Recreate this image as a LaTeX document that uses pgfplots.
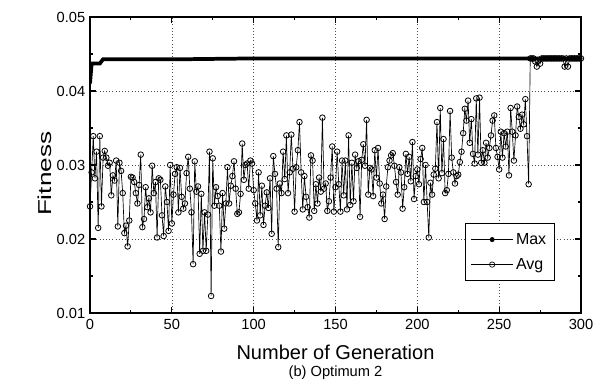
\documentclass[border=0pt]{standalone}
\usepackage{pgfplots}
\pgfplotsset{compat=1.18}
\usepackage{pgfplotstable}
\usepackage{fontspec}
\setmainfont{Liberation Sans}
\usepackage{graphicx}

\pgfplotstableread[row sep=\\]{
avg\\
0.0244\\0.0290\\0.0339\\0.0282\\0.0318\\0.0215\\0.0339\\0.0244\\0.0310\\0.0319\\
0.0310\\0.0299\\0.0303\\0.0259\\0.0286\\0.0279\\0.0306\\0.0217\\0.0303\\0.0292\\
0.0262\\0.0208\\0.0218\\0.0190\\0.0225\\0.0284\\0.0283\\0.0277\\0.0262\\0.0248\\
0.0273\\0.0314\\0.0216\\0.0227\\0.0270\\0.0243\\0.0255\\0.0236\\0.0299\\0.0262\\
0.0277\\0.0202\\0.0282\\0.0280\\0.0232\\0.0204\\0.0271\\0.0250\\0.0211\\0.0300\\
0.0221\\0.0260\\0.0288\\0.0297\\0.0236\\0.0296\\0.0257\\0.0241\\0.0248\\0.0289\\
0.0311\\0.0268\\0.0236\\0.0166\\0.0305\\0.0264\\0.0271\\0.0180\\0.0261\\0.0184\\
0.0236\\0.0184\\0.0233\\0.0318\\0.0123\\0.0309\\0.0245\\0.0270\\0.0258\\0.0245\\
0.0183\\0.0262\\0.0214\\0.0248\\0.0297\\0.0248\\0.0272\\0.0285\\0.0305\\0.0268\\
0.0234\\0.0236\\0.0261\\0.0329\\0.0280\\0.0300\\0.0302\\0.0268\\0.0306\\0.0302\\
0.0266\\0.0248\\0.0225\\0.0290\\0.0232\\0.0272\\0.0219\\0.0245\\0.0263\\0.0242\\
0.0282\\0.0207\\0.0312\\0.0288\\0.0268\\0.0189\\0.0275\\0.0262\\0.0318\\0.0281\\
0.0340\\0.0262\\0.0290\\0.0341\\0.0295\\0.0237\\0.0297\\0.0320\\0.0358\\0.0290\\
0.0240\\0.0285\\0.0257\\0.0243\\0.0229\\0.0313\\0.0306\\0.0238\\0.0274\\0.0248\\
0.0283\\0.0264\\0.0364\\0.0268\\0.0275\\0.0238\\0.0251\\0.0283\\0.0325\\0.0237\\
0.0270\\0.0318\\0.0274\\0.0237\\0.0306\\0.0259\\0.0306\\0.0240\\0.0340\\0.0246\\
0.0303\\0.0251\\0.0314\\0.0296\\0.0305\\0.0230\\0.0307\\0.0328\\0.0299\\0.0361\\
0.0260\\0.0296\\0.0294\\0.0258\\0.0320\\0.0283\\0.0323\\0.0275\\0.0248\\0.0260\\
0.0227\\0.0271\\0.0297\\0.0306\\0.0313\\0.0316\\0.0299\\0.0277\\0.0260\\0.0297\\
0.0290\\0.0241\\0.0270\\0.0315\\0.0288\\0.0311\\0.0278\\0.0331\\0.0254\\0.0285\\
0.0294\\0.0274\\0.0308\\0.0323\\0.0250\\0.0300\\0.0250\\0.0202\\0.0276\\0.0260\\
0.0287\\0.0295\\0.0358\\0.0282\\0.0377\\0.0289\\0.0335\\0.0262\\0.0266\\0.0288\\
0.0373\\0.0310\\0.0290\\0.0275\\0.0285\\0.0287\\0.0304\\0.0318\\0.0343\\0.0376\\
0.0360\\0.0387\\0.0330\\0.0362\\0.0315\\0.0302\\0.0390\\0.0314\\0.0391\\0.0303\\
0.0320\\0.0303\\0.0330\\0.0310\\0.0323\\0.0340\\0.0360\\0.0367\\0.0323\\0.0311\\
0.0294\\0.0345\\0.0310\\0.0343\\0.0325\\0.0345\\0.0286\\0.0377\\0.0345\\0.0306\\
0.0340\\0.0379\\0.0365\\0.0349\\0.0368\\0.0355\\0.0389\\0.0339\\0.0274\\0.0444\\
0.0444\\0.0444\\0.0440\\0.0433\\0.0441\\0.0437\\0.0444\\0.0444\\0.0444\\0.0444\\
0.0444\\0.0444\\0.0444\\0.0444\\0.0444\\0.0444\\0.0444\\0.0444\\0.0444\\0.0444\\
0.0433\\0.0444\\0.0433\\0.0444\\0.0444\\0.0444\\0.0444\\0.0444\\0.0444\\0.0444\\
0.0444\\
}\avgtable

\pgfplotstableread[row sep=\\]{
gen max\\
0 0.0410\\
1 0.0437\\
6 0.0437\\
8 0.0443\\
60 0.0443\\
100 0.0444\\
300 0.0444\\
}\maxtable

\begin{document}
\begin{tikzpicture}
\begin{axis}[
  name=ax,
  scale only axis,
  width=368.25pt, height=222pt,
  xmin=0, xmax=300, ymin=0.01, ymax=0.05,
  scaled y ticks=false, scaled x ticks=false,
  xtick={0,50,100,150,200,250,300},
  xticklabels={0,50,100,150,200,250,300},
  ytick={0.01,0.02,0.03,0.04,0.05},
  yticklabels={0.01,0.02,0.03,0.04,0.05},
  minor x tick num=1, minor y tick num=1,
  major tick length=4.5pt, minor tick length=2.5pt,
  tick style={line width=0.8pt, black},
  axis line style={line width=1.1pt},
  grid=major,
  major grid style={dotted, black!70, line width=0.5pt},
  tick label style={font=\fontsize{11}{13}\selectfont},
  xticklabel style={yshift=-1pt},
  xlabel={Number of Generation},
  ylabel={\scalebox{1.4}[1]{Fitness}},
  xlabel style={font=\fontsize{15}{17}\selectfont, at={(axis description cs:0.5,0)}, anchor=center, yshift=-29.5pt},
  ylabel style={font=\fontsize{14}{16}\selectfont, at={(axis description cs:-0.0923,0.47)}, anchor=center},
  legend style={at={(0.947,0.304)}, anchor=north east, draw=black, line width=1.1pt, fill=white,
    font=\fontsize{12}{14}\selectfont, row sep=5pt, inner xsep=4pt, inner ysep=5pt},
  legend cell align=left,
  legend image code/.code={\draw[mark repeat=2, mark phase=2] plot coordinates {(0cm,0cm) (0.55cm,0cm) (1.1cm,0cm)};},
]
\addplot[forget plot, black, line width=0.5pt, mark=o, mark size=2.1pt, mark options={fill=white, line width=0.6pt}]
  table[x expr=\coordindex, y=avg] {\avgtable};
\addplot[forget plot, black, line width=2.8pt] table[x=gen, y=max] {\maxtable};
\addlegendimage{black, line width=0.5pt, mark=*, mark size=1.6pt}
\addlegendentry{Max}
\addlegendimage{black, line width=0.5pt, mark=o, mark size=2pt, mark options={fill=white}}
\addlegendentry{Avg}
\end{axis}
\node[font=\fontsize{11}{13}\selectfont, anchor=center, yshift=-44.5pt] at (ax.south) {(b) Optimum 2};
\path (ax.south west) ++(-67.5pt,-51pt) coordinate (bl);
\path (ax.north east) ++(18.75pt,12.75pt) coordinate (tr);
\path (bl) rectangle (tr);
\end{tikzpicture}
\end{document}
